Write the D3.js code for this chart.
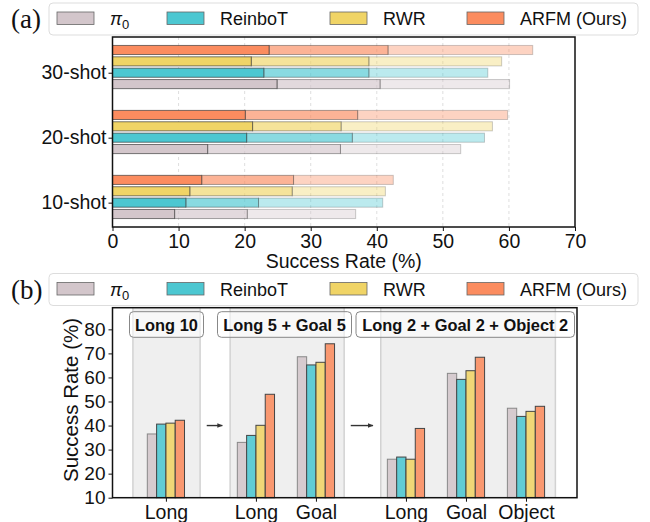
<!DOCTYPE html>
<html>
<head>
<meta charset="utf-8">
<script src="https://cdn.jsdelivr.net/npm/d3@7"></script>
<style>
  body { margin: 0; background: #fff; }
  text { font-family: "Liberation Sans", Arial, sans-serif; fill: #111; }
</style>
</head>
<body>
<svg id="fig" width="650" height="522"></svg>
<script>
// ---- data ----
var methods = ["π0", "ReinboT", "RWR", "ARFM (Ours)"];
var colors = ["#d3c6cb", "#4cc7d1", "#f0d466", "#fb8c5f"];

// (a) few-shot: three stacked stages per bar, rows = 10/20/30-shot
var shots = ["10-shot", "20-shot", "30-shot"];
var pi0Stages = [[9.4, 20.4, 36.8], [14.4, 34.5, 52.7], [24.9, 40.5, 60.1]];
var reinbotStages = [[11.1, 22.1, 40.9], [20.3, 36.3, 56.3], [22.9, 38.8, 56.8]];
var rwrStages = [[11.7, 27.2, 41.3], [21.2, 34.6, 57.5], [21.0, 38.8, 58.9]];
var arfmStages = [[13.5, 27.4, 42.5], [20.1, 37.1, 59.8], [23.7, 41.7, 63.6]];
var xTicksA = [0, 10, 20, 30, 40, 50, 60, 70];

// (b) task mixtures
var settings = ["Long 10", "Long 5 + Goal 5", "Long 2 + Goal 2 + Object 2"];
var tasks = ["Long", "Long", "Goal", "Long", "Goal", "Object"];
var pi0Rates = [36.5, 33.0, 68.6, 26.0, 61.7, 47.2];
var reinbotRates = [40.6, 35.9, 65.2, 26.9, 59.2, 43.8];
var rwrRates = [41.0, 40.1, 66.3, 26.0, 62.8, 45.9];
var arfmRates = [42.2, 53.0, 74.0, 38.8, 68.4, 48.0];
var yTicksB = [10, 20, 30, 40, 50, 60, 70, 80];

var svg = d3.select("#fig");

// ---------- legends ----------
function legend(top, tag) {
  var g = svg.append("g");
  g.append("text").attr("x", 11).attr("y", top + 25)
    .style("font-family", "'Liberation Serif', serif").style("font-size", "27px")
    .text(tag);
  g.append("rect").attr("x", 49).attr("y", top).attr("width", 589).attr("height", 32)
    .attr("rx", 4).attr("fill", "#fff").attr("stroke", "#ddd");
  var sx = [57, 167, 330, 467];
  methods.forEach(function(m, i) {
    g.append("rect").attr("x", sx[i]).attr("y", top + 9).attr("width", 37).attr("height", 12.5)
      .attr("fill", colors[i]).attr("stroke", "#666").attr("stroke-width", 0.8);
    var t = g.append("text").attr("x", sx[i] + 53).attr("y", top + 22).style("font-size", "18px");
    if (i === 0) {
      t.append("tspan").style("font-style", "italic").text("π");
      t.append("tspan").attr("dy", 4).style("font-size", "13px").text("0");
    } else {
      t.text(m);
    }
  });
}
legend(3, "(a)");
legend(273.5, "(b)");

// ---------- (a) horizontal stacked bars ----------
var stagesA = [pi0Stages, reinbotStages, rwrStages, arfmStages];
var xA = d3.scaleLinear().domain([0, 70]).range([112.5, 575]);
var yA = d3.scaleLinear().domain([-0.375, 2.55]).range([227, 37]);
var barOff = [-0.175, 0, 0.175, 0.35], barH = 0.14;
var alphas = [1, 0.66, 0.38];

var ga = svg.append("g");
ga.selectAll(".grid").data(xTicksA.slice(1, -1)).enter().append("line")
  .attr("x1", function(d) { return xA(d); }).attr("x2", function(d) { return xA(d); })
  .attr("y1", 37).attr("y2", 227)
  .attr("stroke", "#d6d6d6").attr("stroke-dasharray", "3,3").attr("stroke-width", 0.8);

var segs = [];
shots.forEach(function(s, si) {
  methods.forEach(function(m, mi) {
    var st = stagesA[mi][si];
    for (var k = 2; k >= 0; k--) {
      segs.push({shot: si, method: mi, stage: k, from: k === 0 ? 0 : st[k - 1], to: st[k]});
    }
  });
});
ga.selectAll(".seg").data(segs).enter().append("rect")
  .attr("x", function(d) { return xA(d.from); })
  .attr("width", function(d) { return xA(d.to) - xA(d.from); })
  .attr("y", function(d) { return yA(d.shot + barOff[d.method] + barH / 2); })
  .attr("height", function(d) { return yA(0) - yA(barH); })
  .attr("fill", function(d) { return colors[d.method]; })
  .attr("fill-opacity", function(d) { return alphas[d.stage]; })
  .attr("stroke", "#333")
  .attr("stroke-opacity", function(d) { return alphas[d.stage] * 0.65; })
  .attr("stroke-width", 1);

ga.append("g").attr("transform", "translate(0,227)")
  .call(d3.axisBottom(xA).tickValues(xTicksA).tickSize(4).tickPadding(3))
  .call(function(g) {
    g.select(".domain").remove();
    g.selectAll("text").style("font-size", "19.5px").attr("fill", "#111");
    g.selectAll("line").attr("stroke", "#111");
  });
ga.append("g").attr("transform", "translate(112.5,0)")
  .call(d3.axisLeft(yA).tickValues([0, 1, 2]).tickFormat(function(d) { return shots[d]; })
    .tickSize(4).tickPadding(2))
  .call(function(g) {
    g.select(".domain").remove();
    g.selectAll("text").style("font-size", "19.5px").attr("fill", "#111");
    g.selectAll("line").attr("stroke", "#111");
  });
ga.append("rect").attr("x", 112.5).attr("y", 37).attr("width", 462.5).attr("height", 190)
  .attr("fill", "none").attr("stroke", "#111").attr("stroke-width", 1.5);
ga.append("text").attr("x", xA(35)).attr("y", 268).attr("text-anchor", "middle")
  .style("font-size", "19.5px").text("Success Rate (%)");

// ---------- (b) grouped vertical bars ----------
var ratesB = [pi0Rates, reinbotRates, rwrRates, arfmRates];
var taskPos = [0, 1.5, 2.5, 4, 5, 6];
var spans = [[-0.55, 0.57], [1.07, 2.97], [3.58, 6.49]];
var boxes = [[129.5, 203.5], [217.5, 351.5], [356, 574.5]];
var xB = d3.scaleLinear().domain([-0.89, 6.85]).range([112.5, 577]);
var yB = d3.scaleLinear().domain([10, 89]).range([497.7, 307.7]);
var bw = 0.155;

var gb = svg.append("g");
spans.forEach(function(sp) {
  gb.append("rect").attr("x", xB(sp[0])).attr("y", 307.7)
    .attr("width", xB(sp[1]) - xB(sp[0])).attr("height", 190)
    .attr("fill", "#efefef");
  sp.forEach(function(v) {
    gb.append("line").attr("x1", xB(v)).attr("x2", xB(v)).attr("y1", 307.7).attr("y2", 497.7)
      .attr("stroke", "#d2d2d2").attr("stroke-width", 1.5);
  });
});

var barsB = [];
tasks.forEach(function(t, ti) {
  methods.forEach(function(m, mi) {
    barsB.push({task: ti, method: mi, value: ratesB[mi][ti]});
  });
});
gb.selectAll(".barB").data(barsB).enter().append("rect")
  .attr("x", function(d) { return xB(taskPos[d.task] + (d.method - 2) * bw); })
  .attr("width", xB(bw) - xB(0))
  .attr("y", function(d) { return yB(d.value); })
  .attr("height", function(d) { return yB(10) - yB(d.value); })
  .attr("fill", function(d) { return colors[d.method]; })
  .attr("fill-opacity", 0.88)
  .attr("stroke", function(d) { return d.method === 0 ? "#888" : "#444"; })
  .attr("stroke-width", 1);

// arrows between settings
var defs = svg.append("defs");
defs.append("marker").attr("id", "ah").attr("viewBox", "0 0 10 10")
  .attr("refX", 9).attr("refY", 5).attr("markerWidth", 4).attr("markerHeight", 4)
  .attr("orient", "auto")
  .append("path").attr("d", "M0,1 L10,5 L0,9 z").attr("fill", "#333");
[[0.68, 0.94], [3.08, 3.45]].forEach(function(a) {
  gb.append("line").attr("x1", xB(a[0])).attr("x2", xB(a[1]))
    .attr("y1", yB(40)).attr("y2", yB(40))
    .attr("stroke", "#333").attr("stroke-width", 1.4).attr("marker-end", "url(#ah)");
});

// setting label boxes
settings.forEach(function(s, i) {
  var b = boxes[i];
  gb.append("rect").attr("x", b[0]).attr("y", 311.7).attr("width", b[1] - b[0]).attr("height", 25.6)
    .attr("rx", 4).attr("fill", "#fff").attr("fill-opacity", 0.55)
    .attr("stroke", "#888").attr("stroke-width", 1);
  gb.append("text").attr("x", (b[0] + b[1]) / 2).attr("y", 330.5)
    .attr("text-anchor", "middle").style("font-size", "16.4px").style("font-weight", "bold")
    .text(s);
});

gb.append("g").attr("transform", "translate(0,497.7)")
  .call(d3.axisBottom(xB).tickValues(taskPos).tickFormat(function(d, i) { return tasks[i]; })
    .tickSize(4).tickPadding(3))
  .call(function(g) {
    g.select(".domain").remove();
    g.selectAll("text").style("font-size", "19.5px").attr("fill", "#111");
    g.selectAll("line").attr("stroke", "#111");
  });
gb.append("g").attr("transform", "translate(112.5,0)")
  .call(d3.axisLeft(yB).tickValues(yTicksB).tickSize(4).tickPadding(3))
  .call(function(g) {
    g.select(".domain").remove();
    g.selectAll("text").style("font-size", "19px").attr("fill", "#111");
    g.selectAll("line").attr("stroke", "#111");
  });
gb.append("rect").attr("x", 112.5).attr("y", 307.7).attr("width", 464.5).attr("height", 190)
  .attr("fill", "none").attr("stroke", "#111").attr("stroke-width", 1.5);
gb.append("text").attr("transform", "translate(78,400) rotate(-90)")
  .attr("text-anchor", "middle").style("font-size", "20.5px").text("Success Rate (%)");
</script>
</body>
</html>
